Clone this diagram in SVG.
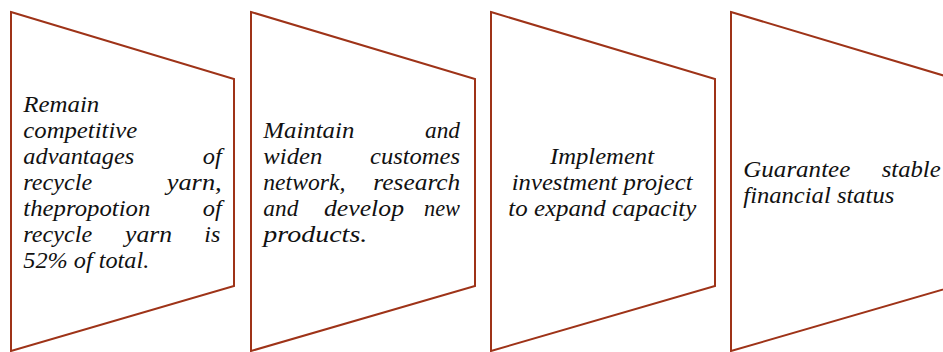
<svg xmlns="http://www.w3.org/2000/svg" width="943" height="352" viewBox="0 0 943 352">
<style>
.shape{fill:#ffffff;stroke:#9E3318;stroke-width:2;stroke-linejoin:miter}
text{font-family:"Liberation Serif","DejaVu Serif",serif;font-style:italic;font-size:23.5px;fill:#111111}
</style>
<rect x="0" y="0" width="943" height="352" fill="#ffffff"/>
<g id="node1">
<polygon class="shape" points="11,12 234,79 234,286 11,351"/>
<text x="23.3" y="111.6" textLength="76" lengthAdjust="spacingAndGlyphs">Remain</text>
<text x="23.3" y="137.7" textLength="114" lengthAdjust="spacingAndGlyphs">competitive</text>
<text x="23.3" y="163.8" textLength="111" lengthAdjust="spacingAndGlyphs">advantages</text>
<text x="202.7" y="163.8" textLength="19" lengthAdjust="spacingAndGlyphs">of</text>
<text x="23.3" y="189.9" textLength="69" lengthAdjust="spacingAndGlyphs">recycle</text>
<text x="166.7" y="189.9" textLength="55" lengthAdjust="spacingAndGlyphs">yarn,</text>
<text x="23.3" y="215.9" textLength="127" lengthAdjust="spacingAndGlyphs">thepropotion</text>
<text x="202.7" y="215.9" textLength="19" lengthAdjust="spacingAndGlyphs">of</text>
<text x="23.3" y="242" textLength="69" lengthAdjust="spacingAndGlyphs">recycle</text>
<text x="125" y="242" textLength="47" lengthAdjust="spacingAndGlyphs">yarn</text>
<text x="204.3" y="242" textLength="16" lengthAdjust="spacingAndGlyphs">is</text>
<text x="23.3" y="268.1" textLength="126" lengthAdjust="spacingAndGlyphs">52% of total.</text>
</g>
<g id="node2">
<polygon class="shape" points="251,12 475,79 475,286 251,351"/>
<text x="263.3" y="137.7" textLength="91" lengthAdjust="spacingAndGlyphs">Maintain</text>
<text x="425" y="137.7" textLength="35" lengthAdjust="spacingAndGlyphs">and</text>
<text x="263.3" y="163.8" textLength="59" lengthAdjust="spacingAndGlyphs">widen</text>
<text x="370" y="163.8" textLength="90" lengthAdjust="spacingAndGlyphs">customes</text>
<text x="263.3" y="189.9" textLength="82" lengthAdjust="spacingAndGlyphs">network,</text>
<text x="373.3" y="189.9" textLength="87" lengthAdjust="spacingAndGlyphs">research</text>
<text x="263.3" y="215.9" textLength="35" lengthAdjust="spacingAndGlyphs">and</text>
<text x="324" y="215.9" textLength="80" lengthAdjust="spacingAndGlyphs">develop</text>
<text x="424" y="215.9" textLength="36" lengthAdjust="spacingAndGlyphs">new</text>
<text x="263.3" y="242" textLength="104" lengthAdjust="spacingAndGlyphs">products.</text>
</g>
<g id="node3">
<polygon class="shape" points="491,12 715,79 715,286 491,351"/>
<text x="550" y="163.8" textLength="104" lengthAdjust="spacingAndGlyphs">Implement</text>
<text x="511.7" y="189.9" textLength="181" lengthAdjust="spacingAndGlyphs">investment project</text>
<text x="508.3" y="215.9" textLength="188" lengthAdjust="spacingAndGlyphs">to expand capacity</text>
</g>
<g id="node4">
<polygon class="shape" points="731,12 955,79 955,286 731,351"/>
<text x="743.3" y="177" textLength="107" lengthAdjust="spacingAndGlyphs">Guarantee</text>
<text x="881.7" y="177" textLength="59" lengthAdjust="spacingAndGlyphs">stable</text>
<text x="743.3" y="203" textLength="151" lengthAdjust="spacingAndGlyphs">financial status</text>
</g>
<g id="connectors"></g>
</svg>
